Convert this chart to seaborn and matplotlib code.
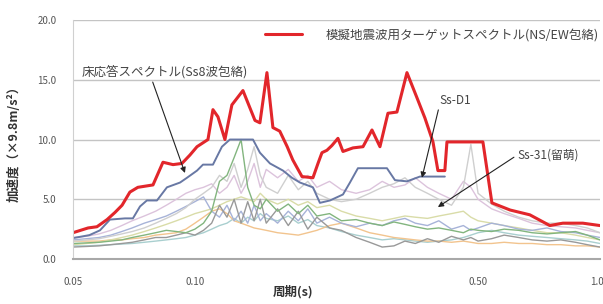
import matplotlib
matplotlib.use("Agg")
import matplotlib.pyplot as plt
import seaborn as sns

# 模擬地震波用ターゲットスペクトル (red envelope)
red_period = [0.050, 0.0545, 0.0573, 0.0607, 0.0635, 0.0661, 0.0691, 0.0723, 0.0788, 0.0834,
              0.0883, 0.0929, 0.0972, 0.1012, 0.1077, 0.1108, 0.114, 0.1186, 0.1234, 0.1314,
              0.1407, 0.1447, 0.1506, 0.1558, 0.162, 0.169, 0.1744, 0.1838, 0.1956, 0.2013,
              0.2059, 0.2118, 0.2179, 0.2255, 0.232, 0.2456, 0.260, 0.2736, 0.2863, 0.2996,
              0.3153, 0.3338, 0.3533, 0.3697, 0.387, 0.398, 0.414, 0.419, 0.514, 0.541,
              0.600, 0.671, 0.752, 0.810, 0.907, 1.000]
red_accel = [2.2, 2.6, 2.7, 3.3, 3.9, 4.5, 5.6, 6.0, 6.2, 8.1,
             7.9, 8.0, 8.7, 9.4, 10.0, 12.5, 11.9, 10.0, 12.9, 14.1,
             11.6, 11.4, 15.6, 11.0, 10.7, 9.4, 8.3, 6.9, 6.8, 8.0,
             8.9, 9.1, 9.5, 10.1, 9.0, 9.3, 9.4, 10.8, 9.4, 12.2,
             12.3, 15.6, 13.5, 11.8, 9.8, 7.4, 7.4, 9.8, 9.8, 4.7,
             4.1, 3.7, 2.8, 3.0, 3.0, 2.8]

# 床応答スペクトル (Ss8波包絡)
env_period = [0.050, 0.0549, 0.0583, 0.0617, 0.0672, 0.0703, 0.0732, 0.0761, 0.0806, 0.0853,
              0.0919, 0.0956, 0.1012, 0.1047, 0.1108, 0.1166, 0.122, 0.1391, 0.1447, 0.1532,
              0.165, 0.1736, 0.1817, 0.1956, 0.2035, 0.2155, 0.232, 0.2414, 0.2526, 0.2979,
              0.3118, 0.3338, 0.3593, 0.414]
env_accel = [1.75, 2.0, 2.4, 3.3, 3.4, 3.4, 4.4, 4.9, 4.9, 6.0,
             6.4, 6.8, 7.4, 7.9, 7.9, 9.4, 10.0, 10.0, 8.9, 8.0,
             7.4, 6.8, 6.4, 6.0, 4.7, 4.9, 5.4, 6.4, 7.6, 7.6,
             6.6, 6.5, 6.9, 6.9]

# individual floor response spectra (thin lines)
period = [0.050, 0.054, 0.058, 0.062, 0.066, 0.070, 0.075, 0.080, 0.085, 0.090,
          0.095, 0.100, 0.105, 0.110, 0.115, 0.120, 0.125, 0.130, 0.135, 0.140,
          0.145, 0.150, 0.160, 0.170, 0.180, 0.190, 0.200, 0.215, 0.230, 0.250,
          0.270, 0.290, 0.310, 0.330, 0.350, 0.375, 0.400, 0.430, 0.460, 0.480,
          0.500, 0.540, 0.580, 0.630, 0.680, 0.740, 0.800, 0.870, 0.930, 1.000]
wave_green = [1.3, 1.35, 1.4, 1.5, 1.6, 1.8, 2.0, 2.2, 2.4, 2.3, 2.2, 2.5,
              3.0, 4.0, 6.5, 7.0, 8.5, 10.0, 6.0, 4.5, 4.2, 5.0,
              4.0, 4.6, 3.8, 4.5, 3.6,
              3.8, 3.2, 3.3, 3.0, 2.8, 3.1, 2.9, 2.7, 2.5, 2.6,
              2.4, 2.2, 2.5, 2.4, 2.3, 2.5, 2.4, 2.2, 2.1, 2.2, 2.3, 2.0, 1.6]
wave_gray = [1.0, 1.05, 1.1, 1.2, 1.3, 1.4, 1.6, 1.8, 1.8, 2.0, 2.2, 2.0,
             2.4, 3.0, 4.5, 3.5, 5.0, 3.0, 4.8, 3.2, 5.0, 3.0,
             4.2, 2.8, 4.0, 2.5, 3.5,
             2.6, 2.4, 1.8, 1.4, 1.0, 1.1, 1.5, 1.3, 1.7, 1.4,
             1.9, 1.6, 1.8, 1.5, 1.7, 2.0, 1.8, 1.6, 1.5, 1.6, 1.4, 1.2, 1.0]
wave_light = [1.5, 1.6, 1.7, 1.9, 2.1, 2.3, 2.6, 3.0, 3.4, 3.8, 4.3, 5.0,
              5.5, 6.0, 7.0, 6.5, 8.0, 6.0, 7.5, 9.4, 7.0, 6.0,
              5.5, 7.0, 5.8, 6.5, 5.5,
              5.0, 4.8, 5.0, 5.5, 6.0, 6.3, 6.8, 6.0, 5.5, 5.0,
              4.5, 6.0, 9.6, 5.5, 4.6, 4.0, 3.5, 3.2, 3.0, 3.0, 2.8, 2.6, 2.2]
wave_orange = [1.5, 1.5, 1.5, 1.6, 1.6, 1.7, 1.8, 2.0, 2.1, 2.2, 2.5, 3.0,
               3.5, 4.0, 4.2, 3.8, 3.2, 3.0, 2.8, 2.6, 2.5, 2.4,
               2.2, 2.1, 2.0, 2.2, 2.4,
               2.8, 3.0, 2.6, 2.2, 2.0, 1.8, 1.7, 1.6, 1.5, 1.5,
               1.4, 1.5, 1.4, 1.3, 1.3, 1.4, 1.3, 1.3, 1.2, 1.2, 1.1, 1.1, 1.0]
wave_olive = [1.2, 1.3, 1.4, 1.6, 1.8, 2.0, 2.3, 2.6, 2.9, 3.2, 3.5, 3.8,
              4.0, 4.2, 4.5, 4.8, 5.0, 5.2, 5.0, 4.8, 5.5, 5.0,
              4.6, 5.0, 4.5, 4.8, 4.3,
              4.5, 4.0, 3.6, 3.4, 3.2, 3.4, 3.6, 3.5, 3.4, 3.6,
              3.8, 4.0, 3.5, 3.2, 3.0, 2.8, 2.6, 2.4, 2.2, 2.2, 2.0, 1.8, 1.6]
wave_blue = [1.6, 1.7, 1.8, 2.0, 2.3, 2.6, 3.0, 3.3, 3.6, 4.0, 4.4, 4.8,
             5.2, 4.0, 3.5, 4.5, 3.2, 4.0, 3.0, 4.5, 3.2, 3.8,
             3.0, 4.0, 3.2, 4.2, 3.0,
             3.5, 3.0, 2.7, 3.0, 2.8, 3.2, 3.4, 3.0, 2.8, 3.2,
             2.5, 2.8, 2.4, 2.6, 3.0, 2.8, 2.5, 2.4, 2.6, 2.3, 2.2, 2.0, 1.8]
wave_pink = [1.8, 1.9, 2.1, 2.4, 2.8, 3.2, 3.6, 4.0, 4.5, 5.0, 5.5, 5.8,
             6.0, 6.3, 5.5, 6.0, 7.0, 5.5, 6.5, 8.0, 6.0, 7.5,
             6.8, 7.5, 6.5, 7.0, 6.0,
             6.5, 5.8, 5.5, 5.8, 6.5, 6.0, 6.2, 6.8, 6.0, 5.5,
             5.0, 6.5, 6.0, 5.0, 4.2, 3.8, 3.4, 3.0, 2.8, 2.7, 2.6, 2.4, 2.2]
wave_teal = [1.1, 1.1, 1.15, 1.2, 1.25, 1.3, 1.4, 1.5, 1.6, 1.7, 1.8, 2.0,
             2.2, 2.5, 2.8, 3.0, 3.4, 3.0, 3.5, 3.2, 3.8, 3.4,
             3.2, 3.6, 3.0, 3.3, 2.8,
             2.6, 2.3, 2.0, 1.8, 1.6, 1.7, 1.6, 1.5, 1.4, 1.5,
             1.6, 1.8, 2.0, 2.2, 2.4, 2.2, 2.0, 1.9, 1.8, 1.7, 1.6, 1.5, 1.3]

sns.set_style("white")
plt.rcParams['font.family'] = ['Noto Sans CJK JP', 'DejaVu Sans']

fig = plt.figure(figsize=(6.03, 3.04), dpi=100)
ax = fig.add_axes([0.121, 0.148, 0.874, 0.786])

# thin lines first, so that the envelopes are on top
thin = [(wave_teal, "#a9cfcf"), (wave_orange, "#f2c48e"), (wave_olive, "#d9dca8"),
        (wave_blue, "#a7b3d8"), (wave_pink, "#dcc3dc"), (wave_light, "#cfcfcf"),
        (wave_gray, "#999999"), (wave_green, "#82b57e")]
for vals, col in thin:
    sns.lineplot(x=period, y=vals, ax=ax, color=col, lw=1.0, legend=False)

sns.lineplot(x=env_period, y=env_accel, ax=ax, color="#6878a4", lw=1.4)
sns.lineplot(x=red_period, y=red_accel, ax=ax, color="#e2262b", lw=2.2,
             label="模擬地震波用ターゲットスペクトル(NS/EW包絡)")

ax.set_xscale("log")
ax.set_xlim(0.05, 1.0)
ax.set_ylim(0, 20)
ax.set_xticks([0.05, 0.10, 0.50, 1.00])
ax.set_xticklabels(["0.05", "0.10", "0.50", "1.00"])
ax.xaxis.set_minor_locator(matplotlib.ticker.NullLocator())
ax.set_yticks([0, 5, 10, 15, 20])
ax.set_yticklabels(["0.0", "5.0", "10.0", "15.0", "20.0"])
ax.tick_params(axis="both", length=0, labelsize=7, labelcolor="#555555")
ax.tick_params(axis="x", pad=13)
ax.tick_params(axis="y", pad=12)

ax.grid(axis="y", color="#c4c4c4", lw=1.0)
ax.set_axisbelow(True)
for s in ["top", "right"]:
    ax.spines[s].set_visible(False)
ax.spines["left"].set_color("#d0d0d0")
ax.spines["bottom"].set_color("#a8a8a8")
ax.spines["bottom"].set_linewidth(1.5)

ax.set_xlabel("周期(s)", fontsize=9, fontweight="bold", color="#333333")
ax.xaxis.set_label_coords(0.417, -0.11)
ax.set_ylabel("加速度（×9.8m/s²）", fontsize=9, fontweight="bold", color="#333333")
ax.yaxis.set_label_coords(-0.099, 0.494)

leg = ax.legend(loc="upper left", bbox_to_anchor=(0.364, 0.965), frameon=False,
                borderaxespad=0, borderpad=0, handlelength=3.0, handletextpad=1.9,
                prop={"size": 9})
for t in leg.get_texts():
    t.set_color("#444444")

# annotations with arrows
arrow = dict(arrowstyle="-|>", color="#222222", lw=0.8, mutation_scale=8, shrinkA=0, shrinkB=0)
ax.annotate("床応答スペクトル(Ss8波包絡)", xy=(0.0945, 7.2), xytext=(0.0843, 15.65),
            fontsize=9, color="#444444", ha="center", va="center",
            arrowprops=dict(arrow, relpos=(0.42, 0.0)))
ax.annotate("Ss-D1", xy=(0.3635, 6.8), xytext=(0.4385, 13.3),
            fontsize=8.5, color="#444444", ha="center", va="center",
            arrowprops=dict(arrow, relpos=(0.0, 0.0)))
ax.annotate("Ss-31(留萌)", xy=(0.398, 4.35), xytext=(0.744, 8.7),
            fontsize=8.5, color="#444444", ha="center", va="center",
            arrowprops=dict(arrow, relpos=(0.0, 0.5)))

fig.savefig("out.png", dpi=100)
